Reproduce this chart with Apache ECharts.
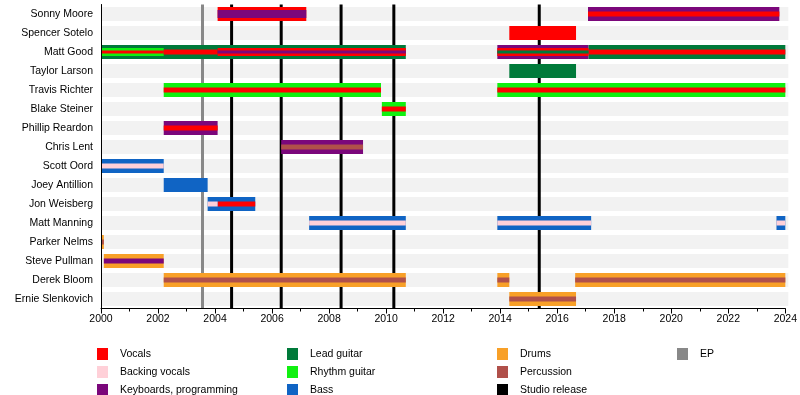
<!DOCTYPE html>
<html>
<head>
<meta charset="utf-8">
<script src="https://cdn.jsdelivr.net/npm/echarts@6/dist/echarts.min.js"></script>
<style>
html,body{margin:0;padding:0;background:#fff;}
#chart{width:800px;height:395px;}
</style>
</head>
<body>
<div id="chart"></div>
<script>
// ---------- DATA ----------
const members = ["Sonny Moore","Spencer Sotelo","Matt Good","Taylor Larson","Travis Richter","Blake Steiner","Phillip Reardon","Chris Lent","Scott Oord","Joey Antillion","Jon Weisberg","Matt Manning","Parker Nelms","Steve Pullman","Derek Bloom","Ernie Slenkovich"];
const yearTicks = [2000,2002,2004,2006,2008,2010,2012,2014,2016,2018,2020,2022,2024];

// segments: [memberIndex, start, end, nestingLayer]  (layer 0 = outer, higher = inner stripe)
const vocals = [
  [0, 2004.09, 2007.2, 0], [0, 2017.08, 2023.79, 2],
  [1, 2014.32, 2016.66, 0],
  [2, 2000.0, 2002.2, 3], [2, 2002.2, 2004.09, 2], [2, 2004.09, 2010.69, 1],
  [2, 2013.9, 2017.1, 1], [2, 2017.1, 2024.0, 2],
  [4, 2002.2, 2009.82, 2], [4, 2013.9, 2024.0, 2],
  [5, 2009.85, 2010.69, 2],
  [6, 2002.2, 2004.09, 2],
  [10, 2004.09, 2005.41, 2]
];
const backingVocals = [
  [8, 2000.0, 2002.2, 2],
  [10, 2003.74, 2004.09, 2],
  [11, 2007.3, 2010.69, 2], [11, 2013.9, 2017.19, 2], [11, 2023.69, 2024.0, 2]
];
const keyboards = [
  [0, 2004.09, 2007.2, 1], [0, 2017.08, 2023.79, 0],
  [2, 2004.09, 2010.69, 3], [2, 2013.9, 2017.1, 0],
  [6, 2002.2, 2004.09, 0],
  [7, 2006.32, 2009.19, 0],
  [13, 2000.1, 2002.2, 2]
];
const leadGuitar = [
  [2, 2000.0, 2010.69, 0], [2, 2013.9, 2017.1, 3], [2, 2017.1, 2024.0, 0],
  [3, 2014.32, 2016.66, 0]
];
const rhythmGuitar = [
  [2, 2000.0, 2002.2, 1],
  [4, 2002.2, 2009.82, 0], [4, 2013.9, 2024.0, 0],
  [5, 2009.85, 2010.69, 0]
];
const bass = [
  [8, 2000.0, 2002.2, 0],
  [9, 2002.2, 2003.74, 0],
  [10, 2003.74, 2005.41, 0],
  [11, 2007.3, 2010.69, 0], [11, 2013.9, 2017.19, 0], [11, 2023.69, 2024.0, 0]
];
const drums = [
  [12, 2000.0, 2000.1, 0],
  [13, 2000.1, 2002.2, 0],
  [14, 2002.2, 2010.69, 0], [14, 2013.9, 2014.32, 0], [14, 2016.63, 2024.0, 0],
  [15, 2014.32, 2016.66, 0]
];
const percussion = [
  [7, 2006.32, 2009.19, 2],
  [12, 2000.0, 2000.1, 2],
  [14, 2002.2, 2010.69, 2], [14, 2013.9, 2014.32, 2], [14, 2016.63, 2024.0, 2],
  [15, 2014.32, 2016.66, 2]
];
const studioReleases = [2004.58, 2006.32, 2008.42, 2010.27, 2015.37];
const eps = [2003.56];

// ---------- STYLE ----------
const FONT = "Liberation Sans, Arial, sans-serif";
const layerHeights = [14, 8, 5, 3];
const bandHeight = 14;

const roles = [
  {name: "Vocals", data: vocals, color: "#ff0000"},
  {name: "Backing vocals", data: backingVocals, color: "#ffd0d8"},
  {name: "Keyboards, programming", data: keyboards, color: "#7b077b"},
  {name: "Lead guitar", data: leadGuitar, color: "#007a3a"},
  {name: "Rhythm guitar", data: rhythmGuitar, color: "#10f010"},
  {name: "Bass", data: bass, color: "#1064c4"},
  {name: "Drums", data: drums, color: "#f8a028"},
  {name: "Percussion", data: percussion, color: "#b0504a"}
];

function barRender(params, api) {
  const m = api.value(0), s = api.value(1), e = api.value(2), lvl = api.value(3);
  const p0 = api.coord([s, m]);
  const p1 = api.coord([e, m]);
  const h = layerHeights[lvl];
  return {
    type: 'rect',
    z2: lvl * 10 + 10,
    shape: {x: p0[0], y: p0[1] - h / 2, width: p1[0] - p0[0], height: h},
    style: {fill: api.visual('color')}
  };
}

const series = [];
// background bands
series.push({
  type: 'custom', name: '_bg', silent: true, z: 1,
  encode: {x: [1, 2], y: 0},
  data: members.map((n, i) => [i, 2000, 2024]),
  renderItem: function (params, api) {
    const m = api.value(0);
    const p0 = api.coord([api.value(1), m]);
    const p1 = api.coord([api.value(2), m]);
    return {type: 'rect', shape: {x: p0[0] + 1, y: p0[1] - bandHeight / 2, width: p1[0] - p0[0] + 2, height: bandHeight},
      style: {fill: '#f2f2f2'}};
  }
});
function lineSeries(name, arr, color) {
  return {
    type: 'custom', name: name, z: 2, silent: true,
    itemStyle: {color: color},
    encode: {x: 0},
    data: arr.map(v => [v]),
    renderItem: function (params, api) {
      const cs = params.coordSys;
      const x = api.coord([api.value(0), 0])[0];
      return {type: 'line', shape: {x1: x, y1: cs.y, x2: x, y2: cs.y + cs.height},
        style: {stroke: api.visual('color'), lineWidth: 3}};
    }
  };
}
series.push(lineSeries("Studio release", studioReleases, "#000000"));
series.push(lineSeries("EP", eps, "#888888"));
roles.forEach(r => {
  series.push({
    type: 'custom', name: r.name, z: 3,
    itemStyle: {color: r.color},
    encode: {x: [1, 2], y: 0},
    data: r.data,
    renderItem: barRender
  });
});

function legendCol(left, names) {
  return {
    left: left, top: 348, orient: 'vertical', padding: 0, height: 80, width: 200,
    icon: 'rect', itemWidth: 11, itemHeight: 12, itemGap: 6,
    selectedMode: false,
    textStyle: {fontFamily: FONT, fontSize: 10.5, color: '#000', padding: [0, 0, 0, 7]},
    data: names
  };
}

const option = {
  animation: false,
  backgroundColor: '#fff',
  textStyle: {fontFamily: FONT},
  grid: {left: 101, right: 11, top: 4.5, height: 304},
  xAxis: {
    type: 'value', min: 2000, max: 2024, interval: 2, z: 10,
    axisLine: {show: true, lineStyle: {color: '#000', width: 1}},
    axisTick: {show: true, length: 5, lineStyle: {color: '#000'}},
    minorTick: {show: true, splitNumber: 2, length: 3, lineStyle: {color: '#000'}},
    splitLine: {show: false},
    axisLabel: {fontFamily: FONT, fontSize: 10.5, color: '#000', margin: 5,
      formatter: v => yearTicks.includes(v) ? String(v) : ''}
  },
  yAxis: {
    type: 'category', inverse: true, data: members, z: 10,
    axisLine: {show: true, lineStyle: {color: '#000', width: 1}},
    axisTick: {show: false},
    splitLine: {show: false},
    axisLabel: {fontFamily: FONT, fontSize: 10.5, color: '#000', margin: 8}
  },
  legend: [
    legendCol(97, ["Vocals", "Backing vocals", "Keyboards, programming"]),
    legendCol(287, ["Lead guitar", "Rhythm guitar", "Bass"]),
    legendCol(497, ["Drums", "Percussion", "Studio release"]),
    legendCol(677, ["EP"])
  ],
  series: series
};

const chart = echarts.init(document.getElementById('chart'), null, {renderer: 'canvas'});
chart.setOption(option);
</script>
</body>
</html>
